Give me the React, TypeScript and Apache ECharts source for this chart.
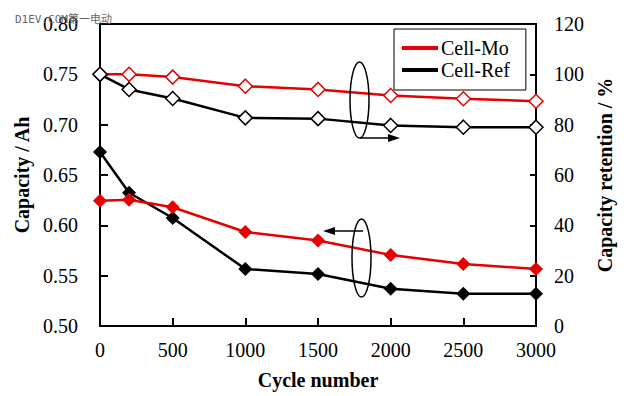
import React, { useEffect, useRef } from "react";
import * as echarts from "echarts";

const cycles = [0, 200, 500, 1000, 1500, 2000, 2500, 3000];
const capMo = [0.6245, 0.6255, 0.618, 0.5934, 0.585, 0.5706, 0.5616, 0.5566];
const capRef = [0.6729, 0.6324, 0.6073, 0.5566, 0.5517, 0.537, 0.532, 0.532];
const retMo = [100, 100, 98.9, 95.3, 94, 91.6, 90.3, 89.3];
const retRef = [100, 94, 90.4, 82.7, 82.4, 79.7, 79, 79];
const seriesNames = ["Cell-Mo", "Cell-Ref"];

const RED = "#e60000";
const FONT = "'Liberation Serif', 'Times New Roman', serif";

const zip = (xs: number[], ys: number[]) => xs.map((x, i) => [x, ys[i]]);

export default function App() {
  const ref = useRef<HTMLDivElement>(null);
  useEffect(() => {
    if (!ref.current) return;
    const chart = echarts.init(ref.current, undefined, { renderer: "svg" });
    const axisLabel = { color: "#000", fontFamily: FONT, fontSize: 20 };
    const nameStyle = { color: "#000", fontFamily: FONT, fontSize: 20, fontWeight: "bold" as const };
    const axisLine = { show: true, lineStyle: { color: "#000", width: 2 } };
    chart.setOption({
      animation: false,
      backgroundColor: "#fff",
      grid: { left: 100, right: 92, top: 24, bottom: 70, show: true, borderColor: "#000", borderWidth: 2 },
      legend: {
        orient: "vertical",
        left: 394,
        top: 29,
        padding: [9, 16, 10, 8],
        itemGap: 2,
        itemWidth: 36,
        itemHeight: 4,
        borderColor: "#000",
        borderWidth: 1,
        backgroundColor: "#fff",
        textStyle: { color: "#000", fontFamily: FONT, fontSize: 20, padding: [0, 0, 0, -2] },
        data: [
          { name: seriesNames[0], icon: "rect", itemStyle: { color: RED } },
          { name: seriesNames[1], icon: "rect", itemStyle: { color: "#000" } },
        ],
      },
      xAxis: {
        type: "value",
        min: 0,
        max: 3000,
        interval: 500,
        name: "Cycle number",
        nameLocation: "middle",
        nameGap: 44,
        nameTextStyle: nameStyle,
        axisLine,
        axisTick: { show: true, inside: true, length: 8, lineStyle: { color: "#000", width: 2 } },
        axisLabel: { ...axisLabel, margin: 14, formatter: (v: number) => String(v) },
        splitLine: { show: false },
      },
      yAxis: [
        {
          type: "value",
          min: 0.5,
          max: 0.8,
          interval: 0.05,
          name: "Capacity / Ah",
          nameLocation: "middle",
          nameGap: 65,
          nameTextStyle: nameStyle,
          axisLine,
          axisTick: { show: true, inside: true, length: 8, lineStyle: { color: "#000", width: 2 } },
          axisLabel: { ...axisLabel, margin: 22, formatter: (v: number) => v.toFixed(2) },
          splitLine: { show: false },
        },
        {
          type: "value",
          min: 0,
          max: 120,
          interval: 20,
          position: "right",
          name: "Capacity retention / %",
          nameLocation: "middle",
          nameGap: 59,
          nameTextStyle: nameStyle,
          axisLine,
          axisTick: { show: true, inside: true, length: 6, lineStyle: { color: "#000", width: 2 } },
          axisLabel: { ...axisLabel, margin: 18, formatter: (v: number) => String(v) },
          splitLine: { show: false },
        },
      ],
      series: [
        {
          name: seriesNames[0],
          type: "line",
          yAxisIndex: 0,
          data: zip(cycles, capMo),
          symbol: "diamond",
          symbolSize: 14,
          lineStyle: { color: RED, width: 2.5 },
          itemStyle: { color: RED },
          z: 3,
        },
        {
          name: seriesNames[1],
          type: "line",
          yAxisIndex: 0,
          data: zip(cycles, capRef),
          symbol: "diamond",
          symbolSize: 14,
          lineStyle: { color: "#000", width: 2.5 },
          itemStyle: { color: "#000" },
          z: 2,
        },
        {
          name: seriesNames[0],
          type: "line",
          yAxisIndex: 1,
          data: zip(cycles, retMo),
          symbol: "diamond",
          symbolSize: 14,
          lineStyle: { color: RED, width: 2.5 },
          itemStyle: { color: "#fff", borderColor: RED, borderWidth: 1.5 },
          z: 3,
        },
        {
          name: seriesNames[1],
          type: "line",
          yAxisIndex: 1,
          data: zip(cycles, retRef),
          symbol: "diamond",
          symbolSize: 14,
          lineStyle: { color: "#000", width: 2.5 },
          itemStyle: { color: "#fff", borderColor: "#000", borderWidth: 1.5 },
          z: 4,
        },
      ],
      graphic: [
        {
          type: "text",
          left: 15,
          top: 14,
          style: { text: "D1EV.COM第一电动", fill: "#666", font: "11px 'DejaVu Sans Mono', 'Noto Sans CJK SC'" },
          z: 100,
        },
        { type: "ellipse", shape: { cx: 359.5, cy: 100, rx: 9.5, ry: 38 }, style: { fill: "none", stroke: "#000", lineWidth: 1.5 }, z: 50 },
        { type: "line", shape: { x1: 360, y1: 138, x2: 392, y2: 138 }, style: { stroke: "#000", lineWidth: 1.5 }, z: 50 },
        { type: "polygon", shape: { points: [[400, 138], [388, 134], [388, 142]] }, style: { fill: "#000" }, z: 50 },
        { type: "ellipse", shape: { cx: 361.5, cy: 258, rx: 9.5, ry: 39 }, style: { fill: "none", stroke: "#000", lineWidth: 1.5 }, z: 50 },
        { type: "line", shape: { x1: 363, y1: 231, x2: 330, y2: 231 }, style: { stroke: "#000", lineWidth: 1.5 }, z: 50 },
        { type: "polygon", shape: { points: [[323, 231], [335, 227], [335, 235]] }, style: { fill: "#000" }, z: 50 },
      ],
    });
    return () => chart.dispose();
  }, []);
  return <div ref={ref} style={{ width: 628, height: 396, position: "absolute", left: 0, top: 0 }} />;
}
